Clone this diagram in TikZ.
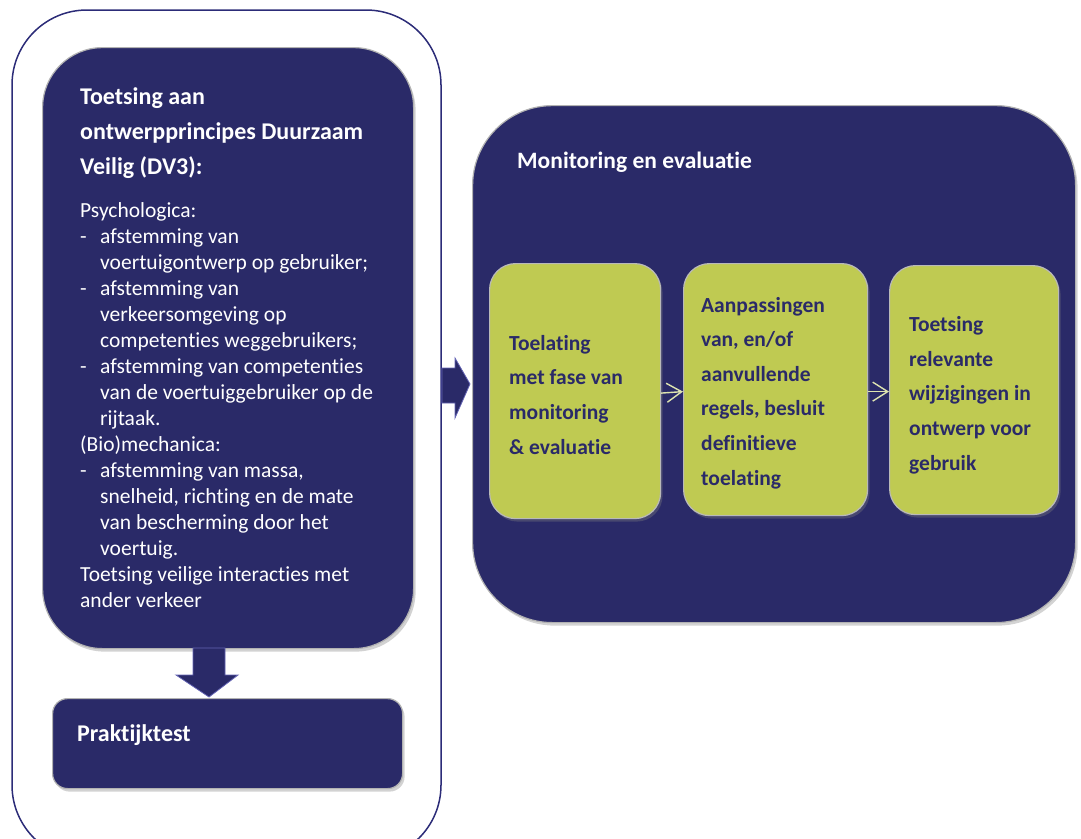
\documentclass[tikz,border=0pt]{standalone}
\usepackage{fontspec}
\setmainfont{Carlito}[Ligatures=NoCommon]
\usetikzlibrary{shadows,arrows.meta}
\definecolor{navy}{RGB}{42,42,104}
\definecolor{lime}{RGB}{191,202,82}
\definecolor{rim}{RGB}{44,44,120}
\definecolor{chev}{RGB}{222,228,176}
\definecolor{edge}{RGB}{100,100,180}
\begin{document}
\begin{tikzpicture}[x=1pt,y=-1pt,
  navybox/.style={fill=navy,draw=gray!60,line width=1.2pt,
    drop shadow={opacity=0.35,shadow xshift=2pt,shadow yshift=-3pt}},
  limebox/.style={fill=lime,draw=gray!55,line width=1.2pt,
    drop shadow={opacity=0.35,shadow xshift=2pt,shadow yshift=-3pt}},
  blockarrow/.style={fill=navy,draw=edge,line width=0.8pt},
  chevron/.style={draw=chev,line width=1.4pt,-{Straight Barb[length=15pt,width=19pt,line width=1.4pt]}},
  headtxt/.style={anchor=base west,inner sep=0pt,text=white,font=\fontsize{24}{35}\selectfont\bfseries,align=left},
  bodytxt/.style={anchor=base west,inner sep=0pt,text=white,font=\fontsize{21.5}{26}\selectfont,align=left},
  limetxt/.style={anchor=base west,inner sep=0pt,text=navy,font=\fontsize{21.5}{34.6}\selectfont\bfseries,align=left}
]
\useasboundingbox (0,0) rectangle (1081,838);
% outer white container
\draw[draw=rim,line width=1.5pt,fill=white,rounded corners=75pt] (12,10) rectangle (441,860);
% left main box
\node[navybox,rounded corners=60pt,minimum width=371pt,minimum height=601pt,inner sep=0pt,anchor=north west] (toets) at (42,47) {};
% praktijktest box
\node[navybox,rounded corners=15pt,minimum width=350pt,minimum height=90pt,inner sep=0pt,anchor=north west] (prak) at (52,698) {};
% right main box
\node[navybox,rounded corners=80pt,minimum width=603pt,minimum height=517pt,inner sep=0pt,anchor=north west] (mon) at (472,105) {};
% lime boxes
\node[limebox,rounded corners=26pt,minimum width=171pt,minimum height=255pt,inner sep=0pt,anchor=north west] (g1) at (489,263) {};
\node[limebox,rounded corners=26pt,minimum width=184pt,minimum height=252pt,inner sep=0pt,anchor=north west] (g2) at (683,263) {};
\node[limebox,rounded corners=26pt,minimum width=169pt,minimum height=249pt,inner sep=0pt,anchor=north west] (g3) at (889,265) {};
% block arrows
\draw[blockarrow] (193,648) -- (225,648) -- (225,675) -- (238,675) -- (209,697) -- (176,675) -- (193,675) -- cycle;
\draw[blockarrow] (442,368) -- (455,368) -- (455,358) -- (470,384) -- (455,418) -- (455,403) -- (442,403) -- cycle;
% chevrons
\draw[chevron] ([yshift=-2pt]g1.east) -- ([yshift=-2pt]g2.west);
\draw[chevron] ([yshift=-2pt]g2.east) -- ([yshift=-2pt]g3.west |- g2.east);
% texts (base anchor = last line baseline)
\node[headtxt] (t1) at (80,174) {Toetsing aan\\ontwerpprincipes Duurzaam\\Veilig (DV3):};
\node[bodytxt] (t2) at (80,607) {Psychologica:\\
\makebox[20pt][l]{-}afstemming van\\
\hspace*{20pt}voertuigontwerp op gebruiker;\\
\makebox[20pt][l]{-}afstemming van\\
\hspace*{20pt}verkeersomgeving op\\
\hspace*{20pt}competenties weggebruikers;\\
\makebox[20pt][l]{-}afstemming van competenties\\
\hspace*{20pt}van de voertuiggebruiker op de\\
\hspace*{20pt}rijtaak.\\
(Bio)mechanica:\\
\makebox[20pt][l]{-}afstemming van massa,\\
\hspace*{20pt}snelheid, richting en de mate\\
\hspace*{20pt}van bescherming door het\\
\hspace*{20pt}voertuig.\\
Toetsing veilige interacties met\\
ander verkeer};
\node[headtxt] (t3) at (77,741) {Praktijktest};
\node[headtxt,font=\fontsize{23.5}{26}\selectfont\bfseries] (t4) at (517,168) {Monitoring en evaluatie};
\node[limetxt] (t5) at (509,454) {Toelating\\met fase van\\monitoring\\\&\ evaluatie};
\node[limetxt] (t6) at (701,485) {Aanpassingen\\van, en/of\\aanvullende\\regels, besluit\\definitieve\\toelating};
\node[limetxt] (t7) at (909,470) {Toetsing\\relevante\\wijzigingen in\\ontwerp voor\\gebruik};
\end{tikzpicture}
\end{document}
